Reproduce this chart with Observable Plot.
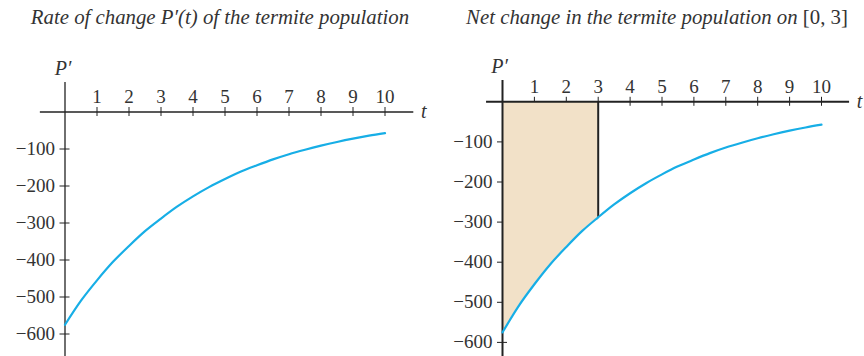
<!DOCTYPE html>
<html>
<head>
<meta charset="utf-8">
<script src="https://cdn.jsdelivr.net/npm/d3@7"></script>
<script src="https://cdn.jsdelivr.net/npm/@observablehq/plot@0.6"></script>
<style>
  body { margin: 0; background: #fff; }
  #wrap { position: relative; width: 864px; height: 356px; overflow: hidden; font-family: "Liberation Serif", serif; color: #333; }
  .panel { position: absolute; top: 0; width: 432px; height: 356px; }
  .title { position: absolute; top: 5px; width: 432px; text-align: center; font-style: italic; font-size: 20.8px; color: #333; white-space: nowrap; }
  .panel svg { position: absolute; top: 40px; left: 0; }
</style>
</head>
<body>
<div id="wrap">
  <div class="panel" id="left"><div class="title" style="left:4px">Rate of change <span>P</span>′(t) of the termite population</div></div>
  <div class="panel" id="right" style="left:432px"><div class="title" style="left:9px">Net change in the termite population on <span style="font-style:normal">[0, 3]</span></div></div>
</div>
<script>
// Values
const tValues = [0, 0.5, 1, 1.5, 2, 2.5, 3, 3.5, 4, 4.5, 5, 5.5, 6, 6.5, 7, 7.5, 8, 8.5, 9, 9.5, 10];
const rateValues = [-575, -510, -455, -405, -362, -322, -288, -256, -228, -203, -181, -161, -144, -128, -114, -102, -91, -81, -72, -64, -57];
const xTicks = [1, 2, 3, 4, 5, 6, 7, 8, 9, 10];
const yTicks = [-100, -200, -300, -400, -500, -600];
const netInterval = [0, 3];

const data = tValues.map((t, i) => ({t, v: rateValues[i]}));
const shaded = data.filter(d => d.t >= netInterval[0] && d.t <= netInterval[1]);
const edge = shaded[shaded.length - 1];

const curveColor = "#17aee6";
const fillColor = "#f2e1c8";
const ink = "#222";
const textColor = "#333";

function panel({xDomain, yDomain, xAxisExtent, yAxisTop, axisWidth, shade, pdx}) {
  const marks = [];
  // tick marks
  marks.push(Plot.ruleX(xTicks, {x: d => d, y1: 0, y2: 0, insetTop: -4.5, insetBottom: -4.5, stroke: ink, strokeWidth: 1}));
  marks.push(Plot.ruleY(yTicks, {y: d => d, x1: 0, x2: 0, insetLeft: -5, insetRight: -5, stroke: ink, strokeWidth: 1}));
  if (shade) {
    marks.push(Plot.areaY(shaded, {x: "t", y1: 0, y2: "v", fill: fillColor, curve: "monotone-x"}));
    marks.push(Plot.ruleX([edge], {x: "t", y1: 0, y2: "v", stroke: ink, strokeWidth: 2}));
  }
  // axes lines
  marks.push(Plot.ruleY([0], {x1: xAxisExtent[0], x2: xAxisExtent[1], stroke: ink, strokeWidth: axisWidth}));
  marks.push(Plot.ruleX([0], {y1: yAxisTop, y2: yDomain[0], stroke: ink, strokeWidth: axisWidth}));
  // curve
  marks.push(Plot.line(data, {x: "t", y: "v", stroke: curveColor, strokeWidth: 2.2, curve: "monotone-x"}));
  // labels
  marks.push(Plot.text(xTicks, {x: d => d, y: 0, dy: -15, text: d => String(d), fill: textColor, fontSize: 19}));
  marks.push(Plot.text(yTicks, {x: 0, y: d => d, dx: -10, text: d => "−" + Math.abs(d), textAnchor: "end", fill: textColor, fontSize: 19}));
  marks.push(Plot.text(["P′"], {x: 0, y: yAxisTop, dx: pdx, dy: -14, fontStyle: "italic", fill: textColor, fontSize: 20}));
  marks.push(Plot.text(["t"], {x: xAxisExtent[1], y: 0, dx: 10, fontStyle: "italic", fill: textColor, fontSize: 20}));
  return Plot.plot({
    width: 432,
    height: 316,
    margin: 0,
    x: {domain: xDomain, axis: null},
    y: {domain: yDomain, axis: null},
    style: {fontFamily: "'Liberation Serif', serif", background: "transparent", overflow: "visible"},
    marks
  });
}

document.getElementById("left").appendChild(panel({
  xDomain: [-64.5 / 32, (432 - 64.5) / 32],
  yDomain: [-(316 - 71.5) / 0.37, 71.5 / 0.37],
  xAxisExtent: [-0.77, 10.9],
  yAxisTop: 80,
  axisWidth: 1.3,
  shade: false,
  pdx: -2
}));

document.getElementById("right").appendChild(panel({
  xDomain: [-70 / 31.9, (432 - 70) / 31.9],
  yDomain: [-(316 - 61.3) / 0.401, 61.3 / 0.401],
  xAxisExtent: [-0.5, 10.88],
  yAxisTop: 53,
  axisWidth: 2,
  shade: true,
  pdx: -3
}));
</script>
</body>
</html>
